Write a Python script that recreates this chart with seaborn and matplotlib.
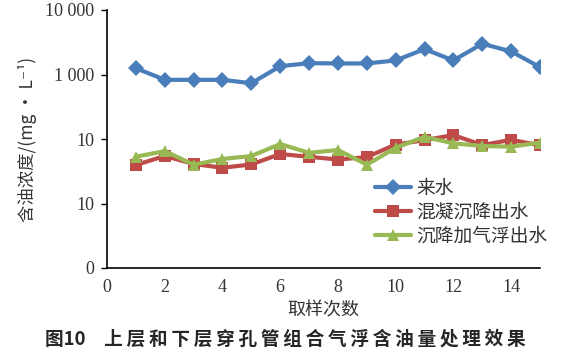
import matplotlib
matplotlib.use("Agg")
import matplotlib.pyplot as plt
import pandas as pd
import seaborn as sns
from matplotlib.ticker import FixedLocator, NullFormatter

# data
samples = list(range(1, 16))
inflow = [1253, 827, 827, 827, 732, 1346, 1499, 1483, 1483, 1652, 2473, 1652, 3000, 2280, 1299]
settle = [39.5, 54.5, 41, 35.8, 40.3, 58.5, 53, 48, 52.5, 82, 96, 115, 80.6, 97, 80]
flotation = [53, 65, 40, 49, 54.5, 83.6, 61, 67.5, 40, 73, 108, 85.5, 78, 76, 88]
series_names = ["来水", "混凝沉降出水", "沉降加气浮出水"]
y_ticks = [1, 10, 100, 1000, 10000]
y_labels = ["0", "10", "10", "1 000", "10 000"]
caption = "图10　上层和下层穿孔管组合气浮含油量处理效果"

df = pd.DataFrame({
    "x": samples * 3,
    "value": inflow + settle + flotation,
    "series": [series_names[0]] * 15 + [series_names[1]] * 15 + [series_names[2]] * 15,
})

sns.set_style("white")
plt.rcParams["font.family"] = ["Noto Sans CJK SC", "DejaVu Sans"]

fig = plt.figure(figsize=(5.77, 3.59), dpi=100)
ax = fig.add_axes([107 / 577, 1 - 268 / 359, 433 / 577, 258 / 359])

palette = {series_names[0]: "#4A7EBB", series_names[1]: "#BE4B48", series_names[2]: "#98B954"}
markers = {series_names[0]: "D", series_names[1]: "s", series_names[2]: "^"}
sns.lineplot(data=df, x="x", y="value", hue="series", style="series", palette=palette,
             markers=markers, dashes=False, linewidth=3, markersize=8, markeredgewidth=0, ax=ax)

ax.set_yscale("log")
ax.set_ylim(1, 10000)
ax.yaxis.set_major_locator(FixedLocator(y_ticks))
ax.yaxis.set_minor_locator(FixedLocator([]))
ax.yaxis.set_minor_formatter(NullFormatter())
ax.set_yticklabels(y_labels, family="Liberation Serif", fontsize=13, color="#333333")

ax.set_xlim(0, 15)
ax.set_xticks(range(0, 15, 2))
ax.set_xticks(range(1, 16, 2), minor=True)
ax.set_xticklabels([str(v) for v in range(0, 15, 2)], family="Liberation Serif", fontsize=13, color="#333333")
ax.tick_params(axis="x", which="both", direction="in", length=4, width=1, color="black", pad=8)
ax.tick_params(axis="y", direction="out", length=4, width=1, color="black", left=True, pad=5)

for s in ["top", "right"]:
    ax.spines[s].set_visible(False)
for s in ["left", "bottom"]:
    ax.spines[s].set_color("black")
    ax.spines[s].set_linewidth(1.2)

ax.set_xlabel("取样次数", fontsize=13, color="#333333", labelpad=4)
ax.set_ylabel("含油浓度/(mg • L⁻¹)", fontsize=12.5, color="#333333", labelpad=6)

leg = ax.legend(loc="lower right", bbox_to_anchor=(1.035, 0.055), frameon=False, fontsize=13.5,
                handlelength=1.9, handletextpad=0.3, labelspacing=0.15, borderaxespad=0)
for t in leg.get_texts():
    t.set_color("#333333")

# the caption is letter-spaced in the reference
spaced = caption[:3] + "　" + "\u2009".join(caption[4:])
fig.text(45 / 577, 1 - 339 / 359, spaced,
         fontsize=13.4, fontweight="bold", va="center", ha="left")

fig.savefig("out.png", dpi=100)
